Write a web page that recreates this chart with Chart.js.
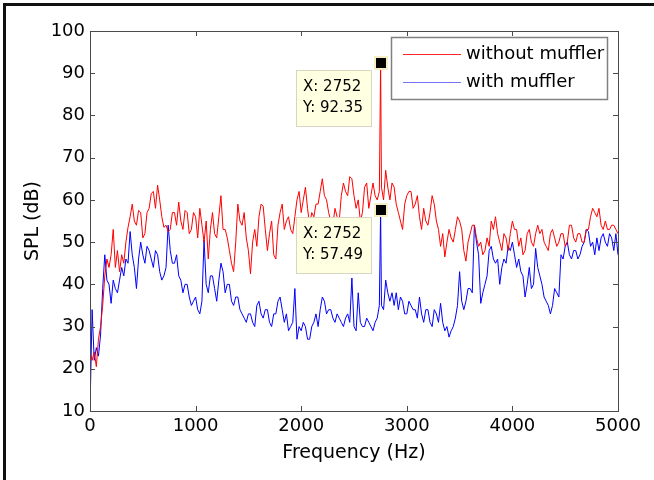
<!DOCTYPE html>
<html>
<head>
<meta charset="utf-8">
<script src="https://cdn.jsdelivr.net/npm/chart.js@4.4.1/dist/chart.umd.min.js"></script>
<style>
    html, body { margin: 0; padding: 0; background: #fff; }
</style>
</head>
<body>
<canvas id="chartSpl" width="654" height="480"></canvas>
<script>
// Espectro SPL com e sem silenciador

const frequencias = [
    0, 20, 40, 60, 80, 100, 120, 140, 160, 180,
    200, 220, 240, 260, 280, 300, 320, 340, 360, 380,
    400, 420, 440, 460, 480, 500, 520, 540, 560, 580,
    600, 620, 640, 660, 680, 700, 720, 740, 760, 780,
    800, 820, 840, 860, 880, 900, 920, 940, 960, 980,
    1000, 1020, 1040, 1060, 1080, 1100, 1120, 1140, 1160, 1180,
    1200, 1220, 1240, 1260, 1280, 1300, 1320, 1340, 1360, 1380,
    1400, 1420, 1440, 1460, 1480, 1500, 1520, 1540, 1560, 1580,
    1600, 1620, 1640, 1660, 1680, 1700, 1720, 1740, 1760, 1780,
    1800, 1820, 1840, 1860, 1880, 1900, 1920, 1940, 1960, 1980,
    2000, 2020, 2040, 2060, 2080, 2100, 2120, 2140, 2160, 2180,
    2200, 2220, 2240, 2260, 2280, 2300, 2320, 2340, 2360, 2380,
    2400, 2420, 2440, 2460, 2480, 2500, 2520, 2540, 2560, 2580,
    2600, 2620, 2640, 2660, 2680, 2700, 2720, 2740, 2752, 2760, 2780,
    2800, 2820, 2840, 2860, 2880, 2900, 2920, 2940, 2960, 2980,
    3000, 3020, 3040, 3060, 3080, 3100, 3120, 3140, 3160, 3180,
    3200, 3220, 3240, 3260, 3280, 3300, 3320, 3340, 3360, 3380,
    3400, 3420, 3440, 3460, 3480, 3500, 3520, 3540, 3560, 3580,
    3600, 3620, 3640, 3660, 3680, 3700, 3720, 3740, 3760, 3780,
    3800, 3820, 3840, 3860, 3880, 3900, 3920, 3940, 3960, 3980,
    4000, 4020, 4040, 4060, 4080, 4100, 4120, 4140, 4160, 4180,
    4200, 4220, 4240, 4260, 4280, 4300, 4320, 4340, 4360, 4380,
    4400, 4420, 4440, 4460, 4480, 4500, 4520, 4540, 4560, 4580,
    4600, 4620, 4640, 4660, 4680, 4700, 4720, 4740, 4760, 4780,
    4800, 4820, 4840, 4860, 4880, 4900, 4920, 4940, 4960, 4980,
    5000
];

const semSilenciador = [
    24, 22, 24, 20.5, 27, 30, 35, 42, 46, 44,
    47, 53, 44, 48, 43, 47, 45, 50, 53.5, 56,
    59, 55, 54, 57.5, 57, 51, 52, 57, 58, 61.5,
    62, 58, 63.5, 60, 56, 53.5, 54, 52.5, 53, 57,
    57, 54, 59.5, 55, 53, 57.5, 57, 52, 53, 57,
    56, 51, 58, 54, 50, 55, 46, 53, 57, 52,
    51, 56, 61, 53, 53, 51, 48, 45, 43, 50,
    59, 55, 54, 57, 51, 48, 42.5, 50, 53, 49,
    56, 59, 58.5, 53, 48, 52, 55, 47, 46, 54,
    57, 59, 53, 55, 56, 53, 52, 56, 60, 62,
    57, 60, 63, 58, 54, 57, 56, 59, 59, 62,
    65, 61, 60, 57, 55, 54, 58, 56, 55, 61,
    64, 62, 61, 65.5, 65, 61, 58, 60, 55, 57,
    63, 64, 58, 61, 64, 61, 60, 62, 92.35, 63, 60,
    67, 63, 60, 64, 63, 59, 57, 55, 53, 59,
    61, 62, 62, 58, 59, 61, 56, 53, 58, 55,
    54, 57, 61, 59, 55, 53, 49, 52, 46.5, 50,
    53, 51, 50, 53, 56, 55, 53, 48, 45.5, 50,
    52, 54, 54, 51, 49, 50, 47, 48, 51, 49,
    55, 53, 56, 52, 50, 48, 52, 51, 48, 52,
    55, 53, 53, 49, 51, 47, 48, 52, 53, 50,
    49, 52, 54, 52, 53, 50, 49, 48, 52, 53,
    51, 49, 50, 52, 52, 49, 50, 54, 54, 51,
    50, 52, 52, 50, 50, 53, 53, 56, 58, 57,
    56, 58, 54, 53, 55, 53, 53, 54, 54, 53,
    52
];

const comSilenciador = [
    10, 34, 22, 25, 23, 28, 39, 47, 41, 40,
    35.5, 41, 39, 38, 41, 44, 42, 46, 45, 52.5,
    47, 44, 39, 46, 50, 47, 45, 49, 48, 46,
    44, 48, 47, 43, 41, 42, 44, 54, 48, 45,
    45, 47, 42, 41, 38, 40, 40, 37, 35, 36,
    37, 34, 33, 36, 50.5, 40, 38, 42, 42, 39,
    36, 41, 45, 43, 38, 40, 40, 36, 35, 37,
    37, 34, 33, 32, 31, 33, 33, 31, 30, 35,
    36, 33, 32, 34, 34, 31, 30, 33, 33, 36,
    37, 34, 31, 33, 29, 30, 31, 39, 27, 30,
    29, 31, 30, 27, 27, 30, 31, 33, 30, 34,
    37, 36, 33, 34, 34, 32, 31, 33, 32, 31,
    30, 32, 33, 31, 41.5, 30, 29, 38, 31, 30,
    30, 32, 31, 30, 29, 31, 32, 35, 57.49, 35, 34,
    41, 38, 36, 38, 35, 38, 34, 37, 36, 33,
    33, 36, 35, 34, 34, 32, 37, 33, 31, 34,
    34, 31, 30, 34, 33, 31, 35.5, 31, 29, 30,
    27.5, 29, 30, 32, 35, 43, 36, 34, 36, 39,
    39, 38, 54, 50, 47, 35.5, 38, 40, 42, 48,
    49, 46, 45, 46, 40, 44, 46, 45, 49, 48,
    50, 47, 44, 46, 43, 42, 37, 40, 44, 39,
    40, 48.5, 44, 42, 40, 37, 36, 35, 33, 35,
    39, 38, 37, 47, 46, 49, 50, 47, 46, 48,
    48, 46, 47, 49, 50, 53, 52.5, 49, 50, 47,
    51, 48, 51, 52, 50, 49, 52, 51, 48, 52,
    47
];

// pontos marcados (datatips)
const marcadores = [
    { x: 2752, y: 92.35 },
    { x: 2752, y: 57.49 }
];

const CORES = {
    vermelho: '#ff0000',
    azul: '#0000ff',
    eixo: '#4a4a4a',
    texto: '#000000',
    dica: '#ffffe1',
    dicaBorda: '#d6d6c2'
};

const FONTE = '"DejaVu Sans", sans-serif';

// ========== PLUGINS ==========
const moldura = {
    id: 'moldura',
    beforeDraw(chart) {
        const ctx = chart.ctx;
        ctx.save();
        ctx.fillStyle = '#fff';
        ctx.fillRect(0, 0, chart.width, chart.height);
        ctx.fillStyle = '#111';
        ctx.fillRect(3, 3, chart.width - 3, 3);
        ctx.fillRect(3, 3, 3, chart.height - 3);
        ctx.restore();
    }
};

const caixaEixos = {
    id: 'caixaEixos',
    afterDatasetsDraw(chart) {
        const { ctx, chartArea: a, scales } = chart;
        ctx.save();
        ctx.strokeStyle = CORES.eixo;
        ctx.lineWidth = 1;
        ctx.strokeRect(a.left + 0.5, a.top + 0.5, a.right - a.left, a.bottom - a.top);
        ctx.beginPath();
        scales.x.ticks.forEach(t => {
            const px = Math.round(scales.x.getPixelForValue(t.value)) + 0.5;
            ctx.moveTo(px, a.bottom); ctx.lineTo(px, a.bottom - 5);
            ctx.moveTo(px, a.top); ctx.lineTo(px, a.top + 5);
        });
        scales.y.ticks.forEach(t => {
            const py = Math.round(scales.y.getPixelForValue(t.value)) + 0.5;
            ctx.moveTo(a.left, py); ctx.lineTo(a.left + 5, py);
            ctx.moveTo(a.right, py); ctx.lineTo(a.right - 5, py);
        });
        ctx.stroke();
        ctx.restore();
    }
};

const datatips = {
    id: 'datatips',
    afterDraw(chart) {
        const { ctx, scales } = chart;
        ctx.save();
        marcadores.forEach(m => {
            const px = scales.x.getPixelForValue(m.x);
            const py = scales.y.getPixelForValue(m.y);
            // caixa de texto
            const bx = Math.round(px) - 85, by = Math.round(py) + 7;
            ctx.fillStyle = CORES.dica;
            ctx.fillRect(bx, by, 75, 56);
            ctx.strokeStyle = CORES.dicaBorda;
            ctx.lineWidth = 1;
            ctx.strokeRect(bx + 0.5, by + 0.5, 75, 56);
            ctx.fillStyle = CORES.texto;
            ctx.font = '15px ' + FONTE;
            ctx.textBaseline = 'middle';
            ctx.textAlign = 'left';
            ctx.fillText('X: ' + m.x, bx + 7, by + 17);
            ctx.fillText('Y: ' + m.y.toFixed(2), bx + 7, by + 38);
            // marcador quadrado
            ctx.fillStyle = '#f4efc4';
            ctx.fillRect(Math.round(px) - 7, Math.round(py) - 7, 14, 14);
            ctx.fillStyle = '#000';
            ctx.fillRect(Math.round(px) - 5, Math.round(py) - 5, 10, 10);
        });
        ctx.restore();
    }
};

const legenda = {
    id: 'legenda',
    afterDraw(chart) {
        const ctx = chart.ctx;
        const x0 = 391, y0 = 37, w = 216, h = 62;
        ctx.save();
        ctx.fillStyle = '#fff';
        ctx.fillRect(x0, y0, w, h);
        ctx.strokeStyle = '#808080';
        ctx.lineWidth = 1.5;
        ctx.strokeRect(x0 + 0.5, y0 + 0.5, w, h);
        ctx.font = '18px ' + FONTE;
        ctx.textBaseline = 'middle';
        chart.data.datasets.forEach((ds, i) => {
            const ly = 54 + i * 28;
            ctx.strokeStyle = ds.borderColor;
            ctx.globalAlpha = i === 1 ? 0.55 : 0.85;
            ctx.lineWidth = 1.2;
            ctx.beginPath();
            ctx.moveTo(403, ly + 0.5);
            ctx.lineTo(461, ly + 0.5);
            ctx.stroke();
            ctx.globalAlpha = 1;
            ctx.fillStyle = CORES.texto;
            ctx.fillText(ds.label, 466, ly);
        });
        ctx.restore();
    }
};

// ========== GRAFICO ==========
function criarSerie(valores) {
    return frequencias.map((f, i) => ({ x: f, y: valores[i] }));
}

function criarGrafico() {
    const ctx = document.getElementById('chartSpl').getContext('2d');
    return new Chart(ctx, {
        type: 'line',
        data: {
            datasets: [
                {
                    label: 'without muffler',
                    data: criarSerie(semSilenciador),
                    borderColor: CORES.vermelho,
                    borderWidth: 1,
                    pointRadius: 0,
                    tension: 0,
                    fill: false
                },
                {
                    label: 'with muffler',
                    data: criarSerie(comSilenciador),
                    borderColor: CORES.azul,
                    borderWidth: 1,
                    pointRadius: 0,
                    tension: 0,
                    fill: false
                }
            ]
        },
        options: {
            responsive: false,
            animation: false,
            devicePixelRatio: 1,
            layout: { padding: { top: 31, right: 36, bottom: 0, left: 0 } },
            plugins: {
                legend: { display: false },
                tooltip: { enabled: false }
            },
            scales: {
                x: {
                    type: 'linear',
                    min: 0,
                    max: 5000,
                    grid: { display: false, drawTicks: false },
                    border: { display: false },
                    ticks: {
                        stepSize: 1000,
                        color: CORES.texto,
                        font: { family: FONTE, size: 18 },
                        padding: 5,
                        maxRotation: 0,
                        callback: (v) => String(v)
                    },
                    title: {
                        display: true,
                        text: 'Frequency (Hz)',
                        color: CORES.texto,
                        font: { family: FONTE, size: 19 },
                        padding: { top: 0, bottom: 16 }
                    },
                    afterFit: (s) => { s.height = 69; }
                },
                y: {
                    min: 10,
                    max: 100,
                    grid: { display: false, drawTicks: false },
                    border: { display: false },
                    ticks: {
                        stepSize: 10,
                        color: CORES.texto,
                        font: { family: FONTE, size: 18 },
                        padding: 5
                    },
                    title: {
                        display: true,
                        text: 'SPL (dB)',
                        color: CORES.texto,
                        font: { family: FONTE, size: 19 },
                        padding: { top: 22, bottom: 0 }
                    },
                    afterFit: (s) => { s.width = 90; }
                }
            }
        },
        plugins: [moldura, caixaEixos, datatips, legenda]
    });
}

criarGrafico();
</script>
</body>
</html>
